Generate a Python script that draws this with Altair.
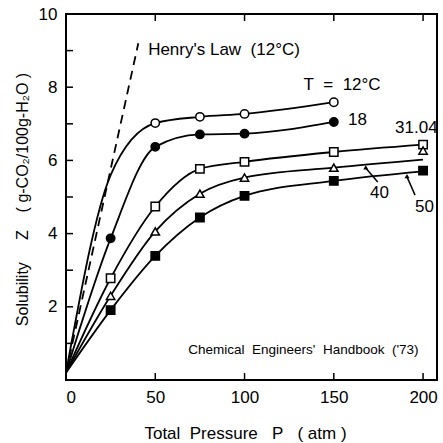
import altair as alt
import pandas as pd

FONT = "Liberation Sans"
S = "\u00a0"  # non-breaking space keeps wide gaps in SVG text

# ---- data ----
series_names = ["12", "18", "31.04", "40", "50"]
P_line = {
    "12":    [0, 25, 50, 75, 100, 150],
    "18":    [0, 25, 50, 75, 100, 150],
    "31.04": [0, 25, 50, 75, 100, 150, 200],
    "40":    [0, 25, 50, 75, 100, 150, 200],
    "50":    [0, 25, 50, 75, 100, 150, 200],
}
Z_line = {
    "12":    [0.2, 5.6, 7.02, 7.19, 7.27, 7.59],
    "18":    [0.2, 3.87, 6.37, 6.71, 6.73, 7.05],
    "31.04": [0.2, 2.78, 4.74, 5.77, 5.96, 6.23, 6.43],
    "40":    [0.2, 2.30, 4.06, 5.09, 5.53, 5.80, 6.02],
    "50":    [0.2, 1.91, 3.39, 4.44, 5.03, 5.44, 5.70],
}
P_pts = {
    "12":    [50, 75, 100, 150],
    "18":    [25, 50, 75, 100, 150],
    "31.04": [25, 50, 75, 100, 150, 200],
    "40":    [25, 50, 75, 100, 150, 200],
    "50":    [25, 50, 75, 100, 150, 200],
}
Z_pts = {
    "12":    [7.02, 7.19, 7.27, 7.59],
    "18":    [3.87, 6.37, 6.71, 6.73, 7.05],
    "31.04": [2.78, 4.74, 5.77, 5.96, 6.23, 6.43],
    "40":    [2.30, 4.06, 5.09, 5.53, 5.80, 6.27],
    "50":    [1.91, 3.39, 4.44, 5.03, 5.44, 5.72],
}
marker_shapes = ["circle", "circle", "square", "triangle-up", "square"]
marker_fills = ["white", "black", "white", "white", "black"]

henry_P = [0, 40.5]
henry_Z = [0.2, 9.2]

ann_text = [f"Henry's{S}Law{S}{S}(12°C)", f"T{S}{S}={S}{S}12°C", "18", "31.04", "40", "50"]
ann_P = [46, 133, 158, 184.3, 170.3, 195.5]
ann_Z = [9.02, 8.06, 7.1, 6.89, 5.11, 4.73]

leader_P = [174.6, 195.5]
leader_Z = [5.41, 5.05]
leader_P2 = [167.9, 191.0]
leader_Z2 = [5.79, 5.55]

source_text = [f"Chemical{S}{S}Engineers'{S}{S}Handbook{S}{S}('73)"]
source_P = [68.5]
source_Z = [0.82]

x_ticks = [50, 100, 150, 200]
y_ticks = [1, 2, 3, 4, 5, 6, 7, 8, 9]

# ---- build tables ----
line_rows = []
for s in series_names:
    for p, z in zip(P_line[s], Z_line[s]):
        line_rows.append({"series": s, "P": p, "Z": z})
line_df = pd.DataFrame(line_rows)

pt_rows = []
for s in series_names:
    for p, z in zip(P_pts[s], Z_pts[s]):
        pt_rows.append({"series": s, "P": p, "Z": z})
pt_df = pd.DataFrame(pt_rows)

henry_df = pd.DataFrame({"P": henry_P, "Z": henry_Z})
ann_df = pd.DataFrame({"text": ann_text, "P": ann_P, "Z": ann_Z})
lead_df = pd.DataFrame({"P": leader_P, "Z": leader_Z, "P2": leader_P2, "Z2": leader_Z2})
src_df = pd.DataFrame({"text": source_text, "P": source_P, "Z": source_Z})
xt_df = pd.DataFrame({"P": x_ticks})
yt_df = pd.DataFrame({"Z": y_ticks})

W, H = 371, 366
xscale = alt.Scale(domain=[0, 207.8], nice=False, zero=False)
yscale = alt.Scale(domain=[0, 10], nice=False, zero=False)

xaxis = alt.Axis(
    values=[0, 50, 100, 150, 200], ticks=False, domain=False, grid=False,
    labelFontSize=17, labelFont=FONT, labelColor="black", labelPadding=9,
    title=f"Total{S}{S}Pressure{S}{S}{S}P{S}{S}{S}({S}atm{S})",
    titleFont=FONT, titleFontSize=17,
    titleFontWeight="normal", titleColor="black", titleX=179, titleY=53,
    titleBaseline="middle", titleAlign="center",
)
yaxis = alt.Axis(
    values=[2, 4, 6, 8, 10], ticks=False, domain=False, grid=False,
    labelFontSize=17, labelFont=FONT, labelColor="black", labelPadding=9,
    title=f"Solubility{S}{S}{S}{S}{S}Z{S}{S}{S}{S}({S}g-CO₂/100g-H₂O{S})",
    titleFont=FONT, titleFontSize=16,
    titleFontWeight="normal", titleColor="black", titleX=-44, titleY=185,
    titleAngle=270, titleBaseline="middle", titleAlign="center",
)

base_x = alt.X("P:Q", scale=xscale, axis=xaxis)
base_y = alt.Y("Z:Q", scale=yscale, axis=yaxis)

lines = alt.Chart(line_df).mark_line(
    color="black", strokeWidth=1.8, interpolate="monotone"
).encode(x=base_x, y=base_y, detail="series:N")

henry = alt.Chart(henry_df).mark_line(
    color="black", strokeWidth=1.8, strokeDash=[9, 6]
).encode(x=alt.X("P:Q", scale=xscale), y=alt.Y("Z:Q", scale=yscale))

points = alt.Chart(pt_df).mark_point(
    size=70, strokeWidth=1.5, stroke="black", filled=False, opacity=1
).encode(
    x=alt.X("P:Q", scale=xscale),
    y=alt.Y("Z:Q", scale=yscale),
    shape=alt.Shape("series:N", scale=alt.Scale(domain=series_names, range=marker_shapes), legend=None),
    fill=alt.Fill("series:N", scale=alt.Scale(domain=series_names, range=marker_fills), legend=None),
)

ann = alt.Chart(ann_df).mark_text(
    align="left", baseline="middle", font=FONT, fontSize=17, color="black"
).encode(x=alt.X("P:Q", scale=xscale), y=alt.Y("Z:Q", scale=yscale), text="text:N")

src = alt.Chart(src_df).mark_text(
    align="left", baseline="middle", font=FONT, fontSize=13.5, color="black"
).encode(x=alt.X("P:Q", scale=xscale), y=alt.Y("Z:Q", scale=yscale), text="text:N")

leaders = alt.Chart(lead_df).mark_rule(color="black", strokeWidth=1.5).encode(
    x=alt.X("P:Q", scale=xscale), y=alt.Y("Z:Q", scale=yscale),
    x2="P2:Q", y2="Z2:Q",
)
arrow_heads = alt.Chart(lead_df).mark_point(
    shape="triangle", filled=True, color="black", size=25, opacity=1
).encode(x=alt.X("P2:Q", scale=xscale), y=alt.Y("Z2:Q", scale=yscale))

xt_bottom = alt.Chart(xt_df).mark_rule(color="black", strokeWidth=1.5).encode(
    x=alt.X("P:Q", scale=xscale), y=alt.value(H), y2=alt.value(H - 7))
xt_top = alt.Chart(xt_df).mark_rule(color="black", strokeWidth=1.5).encode(
    x=alt.X("P:Q", scale=xscale), y=alt.value(0), y2=alt.value(7))
yt_left = alt.Chart(yt_df).mark_rule(color="black", strokeWidth=1.5).encode(
    y=alt.Y("Z:Q", scale=yscale), x=alt.value(0), x2=alt.value(7))

chart = alt.layer(
    lines, henry, leaders, arrow_heads, points, ann, src, xt_bottom, xt_top, yt_left
).properties(
    width=W, height=H,
    autosize=alt.AutoSizeParams(type="none"),
    padding={"left": 66, "top": 14, "right": 6, "bottom": 63},
    background="white",
).configure_view(
    stroke="black", strokeWidth=2
)

chart.save("out.html", embed_options={"renderer": "svg", "actions": False})
